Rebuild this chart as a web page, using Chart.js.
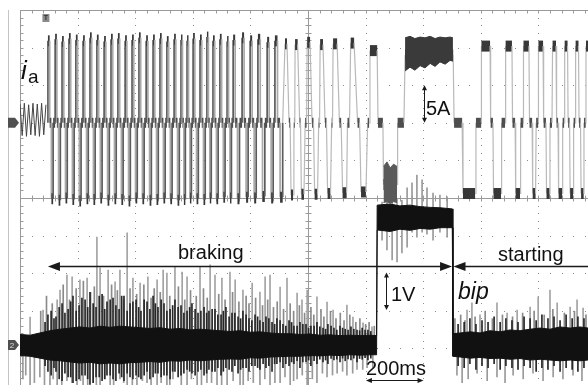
<!DOCTYPE html>
<html>
<head>
<meta charset="utf-8">
<script src="https://cdn.jsdelivr.net/npm/chart.js@4.4.0/dist/chart.umd.min.js"></script>
<style>
  html, body { margin: 0; padding: 0; background: #fff; }
  #wrap { position: relative; width: 588px; height: 385px; overflow: hidden; }
  #wrap canvas { position: absolute; left: 0; top: 0; }
  .lbl { position: absolute; font-family: "Liberation Sans", Arial, sans-serif; font-size: 20px; line-height: 20px; color: #111; white-space: nowrap; }
</style>
</head>
<body>
<div id="wrap">
  <canvas id="scope" width="588" height="385"></canvas>
  <span class="lbl" style="left:21px;top:57px;font-size:26px;line-height:26px;font-style:italic">i</span>
  <span class="lbl" style="left:28px;top:67px;font-size:19px;line-height:19px">a</span>
  <span class="lbl" style="left:426px;top:98px">5A</span>
  <span class="lbl" style="left:178px;top:242px">braking</span>
  <span class="lbl" style="left:498px;top:244px">starting</span>
  <span class="lbl" style="left:391px;top:284px">1V</span>
  <span class="lbl" style="left:458px;top:280px;font-size:23px;line-height:23px;font-style:italic">bip</span>
  <span class="lbl" style="left:366px;top:358px">200ms</span>
</div>
<script>
// time in ms (200 ms/div), current in A (5 A/div), voltage in V (1 V/div)

// ia before the trigger
const preT = [0, 7.5, 15, 22.5, 30, 37.5, 45, 52.5, 60, 67.5, 75, 82.5, 90];
const preI = [2.5, -1.7, 2.6, -1.8, 2.4, -1.6, 2.6, -1.7, 2.5, -1.8, 2.6, -1.6, 2.4];

// ia braking, fast part: per cycle  + pulse on, + pulse off, - pulse on, - pulse off
const denseT = [97, 103, 109, 115, 122, 128, 134, 140, 146, 152, 158, 164, 170, 176, 182, 188,
  194, 200, 206, 212, 219, 225, 231, 237, 243, 249, 255, 261, 267, 273, 279, 285,
  292, 298, 304, 310, 316, 322, 328, 334, 340, 346, 352, 358, 365, 371, 377, 383,
  389, 395, 401, 407, 413, 419, 425, 431, 438, 444, 450, 456, 462, 468, 474, 480,
  486, 492, 498, 504, 510, 516, 522, 528, 535, 541, 547, 553, 559, 564, 569, 574,
  580, 585, 590, 595, 601, 607, 613, 619, 625, 631, 637, 643, 649, 654, 659, 664,
  670, 676, 682, 688, 694, 700, 706, 712, 719, 724, 729, 734, 740, 747, 755, 762,
  771, 778, 785, 792, 799, 806, 813, 820, 826, 834, 842, 850, 858, 865, 872, 879,
  885, 894, 903, 912];
const denseTop = [10.9, 11.1, 10.8, 11.2, 11.0, 10.9, 11.3, 11.0, 10.8, 11.1, 11.2, 10.9, 11.0,
  11.3, 10.9, 11.0, 11.2, 10.8, 11.1, 11.0, 10.9, 11.2, 11.0, 11.4, 10.9, 11.1, 10.8,
  11.0, 11.3, 10.9, 11.1, 10.7, 10.9];
const denseBot = [-10.1, -10.3, -10.0, -10.2, -10.4, -10.1, -10.2, -10.0, -10.3, -10.1, -10.2,
  -10.4, -10.0, -10.1, -10.3, -10.2, -10.0, -10.1, -10.3, -10.2, -10.0, -10.1, -10.2,
  -10.0, -10.1, -9.9, -10.0, -10.1, -9.9, -10.0, -9.8, -10.0, -9.9];

// ia slow end of braking, bip pause and starting (plateau start/end pairs)
const curT = [912,
  920, 927, 934, 938, 941, 948, 951, 954,
  955, 964, 971, 974, 977, 986, 990, 995,
  997, 1007, 1014, 1019, 1023, 1033, 1037, 1040,
  1042, 1052, 1059, 1064, 1068, 1078, 1082, 1085,
  1087, 1101, 1109, 1115, 1120, 1134, 1137, 1144,
  1148, 1160, 1172, 1179, 1184, 1201, 1207, 1212,
  1215, 1240, 1243, 1260, 1262, 1309, 1311, 1333, 1337, 1504, 1507, 1535,
  1538, 1580, 1583, 1601, 1602, 1632, 1634, 1642, 1644, 1670, 1672, 1684, 1686, 1708,
  1710, 1719, 1721, 1736, 1738, 1747, 1748, 1767, 1769, 1778, 1780, 1790, 1792, 1799,
  1800, 1816, 1818, 1826, 1828, 1839, 1840, 1847, 1849, 1861, 1863, 1868, 1870, 1882,
  1884, 1889, 1891, 1901, 1903, 1908, 1910, 1920, 1922, 1927, 1929, 1939, 1941, 1946,
  1948, 1957, 1958, 1964, 1965, 1972];
const curI = [0,
  10.5, 10.5, 0, 0, -9.6, -9.6, 0, 0,
  10.4, 10.4, 0, 0, -9.5, -9.5, 0, 0,
  10.7, 10.7, 0, 0, -9.5, -9.5, 0, 0,
  10.4, 10.4, 0, 0, -9.4, -9.4, 0, 0,
  10.5, 10.5, 0, 0, -9.3, -9.3, 0, 0,
  10.6, 10.6, 0, 0, -9.2, -9.2, 0, 0,
  9.6, 9.6, 0, 0, -8.2, -8.2, 0, 0, 9.0, 9.0, 0, 0,
  -9.4, -9.4, 0, 0, 10.2, 10.2, 0, 0, -9.4, -9.4, 0, 0, 10.2, 10.2,
  0, 0, -9.4, -9.4, 0, 0, 10.2, 10.2, 0, 0, -9.4, -9.4, 0, 0,
  10.2, 10.2, 0, 0, -9.4, -9.4, 0, 0, 10.2, 10.2, 0, 0, -9.4, -9.4,
  0, 0, 10.2, 10.2, 0, 0, -9.4, -9.4, 0, 0, 10.2, 10.2, 0, 0,
  -9.4, -9.4, 0, 0, 10.2, 10.2];

// noisy ia blocks
const negBlockT = [1262, 1274, 1285, 1297, 1309];
const negBlockHi = [-5.8, -5.2, -6.0, -5.5, -5.8];
const negBlockLo = [-10.6, -10.5, -10.7, -10.5, -10.6];
const posBlockT = [1337, 1354, 1371, 1389, 1406, 1424, 1441, 1458, 1476, 1493, 1503];
const posBlockHi = [11.3, 11.5, 11.2, 11.4, 11.3, 11.5, 11.2, 11.4, 11.3, 11.4, 11.3];
const posBlockLo = [6.9, 7.4, 7.0, 7.6, 7.3, 7.9, 7.5, 8.1, 7.8, 8.3, 8.2];

// bip: core noise band
const bandT = [0, 35, 69, 104, 139, 174, 208, 243, 278, 313, 347, 382, 417, 451, 486, 521, 556, 590,
  625, 660, 694, 729, 764, 799, 833, 868, 903, 938, 972, 1007, 1042, 1076, 1111, 1146, 1181,
  1215, 1238, 1240, 1285, 1319, 1354, 1389, 1424, 1458, 1501, 1503, 1528, 1563, 1597, 1632,
  1667, 1701, 1736, 1771, 1806, 1840, 1875, 1910, 1944, 1972];
const bandHi = [0.28, 0.26, 0.32, 0.38, 0.42, 0.45, 0.48, 0.45, 0.5, 0.47, 0.5, 0.48, 0.46, 0.44,
  0.46, 0.42, 0.44, 0.4, 0.42, 0.4, 0.38, 0.36, 0.38, 0.34, 0.35, 0.32, 0.3, 0.3, 0.28, 0.29,
  0.26, 0.27, 0.25, 0.26, 0.25, 0.26, 0.25,
  3.72, 3.75, 3.70, 3.72, 3.68, 3.66, 3.65, 3.62,
  0.30, 0.32, 0.35, 0.32, 0.38, 0.35, 0.40, 0.38, 0.42, 0.45, 0.42, 0.48, 0.45, 0.48, 0.45];
const bandLo = [-0.28, -0.3, -0.35, -0.4, -0.42, -0.45, -0.48, -0.46, -0.5, -0.48, -0.5, -0.47,
  -0.46, -0.44, -0.46, -0.42, -0.43, -0.4, -0.42, -0.4, -0.38, -0.37, -0.38, -0.34, -0.35,
  -0.32, -0.31, -0.3, -0.3, -0.28, -0.29, -0.27, -0.28, -0.26, -0.27, -0.26, -0.26,
  3.06, 3.02, 3.08, 3.05, 3.10, 3.08, 3.12, 3.12,
  -0.30, -0.32, -0.35, -0.33, -0.36, -0.35, -0.38, -0.36, -0.40, -0.38, -0.40, -0.42, -0.40,
  -0.42, -0.40];

// bip: tall grey spikes up from 0 V
const vUpT = [35, 80, 129, 139, 163, 181, 208, 233, 267, 278, 306, 330, 347, 372, 392, 417, 444,
  476, 497, 510, 538, 563, 580, 625, 660, 677, 701, 729, 747, 774, 806, 833, 851, 868, 903,
  927, 962, 979, 997, 1031, 1066, 1087, 1135, 1156, 1191, 1222,
  1552, 1569, 1597, 1656, 1691, 1726, 1771, 1799, 1840, 1865, 1910, 1934, 1955];
const vUpV = [0.74, 0.93, 1.2, 1.46, 1.86, 1.81, 1.73, 1.78, 2.87, 2.05, 1.99, 1.68, 1.99, 2.98,
  1.78, 1.65, 1.81, 1.73, 1.99, 1.91, 2.07, 1.94, 1.81, 2.07, 2.13, 1.86, 1.78, 1.94, 1.73,
  1.46, 1.65, 1.41, 1.81, 1.86, 1.54, 1.78, 1.38, 1.2, 1.46, 1.28, 1.14, 0.93, 1.06, 0.74,
  0.59, 0.48,
  0.93, 1.12, 0.8, 1.12, 0.85, 0.93, 1.01, 1.28, 1.46, 1.12, 1.01, 1.2, 0.98];
// bip: shorter grey spikes up
const vUp2T = [72, 92, 112, 150, 172, 195, 220, 245, 258, 290, 318, 338, 360, 382, 405, 430, 455,
  466, 487, 520, 550, 572, 592, 612, 637, 650, 690, 712, 738, 760, 785, 795, 818, 842, 860,
  880, 893, 915, 938, 950, 970, 988, 1010, 1020, 1045, 1055, 1078, 1097, 1112, 1125, 1145,
  1166, 1180, 1200, 1212, 1230,
  1510, 1530, 1545, 1580, 1615, 1640, 1675, 1710, 1745, 1785, 1820, 1850, 1890, 1925, 1965];
const vUp2V = [0.9, 1.3, 1.1, 1.6, 1.2, 1.5, 1.7, 1.4, 1.55, 1.3, 1.6, 1.45, 1.2, 1.5, 1.35, 1.6,
  1.25, 1.5, 1.4, 1.3, 1.55, 1.2, 1.45, 1.3, 1.5, 1.25, 1.35, 1.2, 1.4, 1.15, 1.3, 1.1, 1.25,
  1.05, 1.2, 1.0, 1.15, 0.95, 1.1, 0.9, 1.05, 0.85, 1.0, 0.8, 0.95, 0.75, 0.9, 0.7, 0.85, 0.65,
  0.8, 0.6, 0.7, 0.55, 0.6, 0.5,
  0.7, 0.8, 0.65, 0.75, 0.9, 0.7, 0.8, 0.75, 0.85, 0.9, 0.8, 0.95, 0.85, 0.9, 0.8];

// bip: grey spikes down from 0 V
const vDownT = [10, 35, 69, 104, 129, 163, 198, 219, 254, 278, 313, 347, 372, 406, 441, 476, 510,
  531, 580, 615, 649, 684, 719, 764, 792, 833, 868, 903, 938, 962, 997, 1031, 1066, 1101,
  1135, 1170, 1205,
  20, 50, 85, 115, 145, 180, 210, 235, 265, 295, 325, 360, 390, 425, 455, 490, 520, 560, 595,
  630, 665, 700, 740, 775, 810, 850, 885, 920, 950, 980, 1015, 1050, 1085, 1120, 1155, 1190, 1225,
  1517, 1535, 1556, 1587, 1622, 1656, 1684, 1712, 1747, 1781, 1816, 1851, 1885, 1920, 1951];
const vDownV = [-0.9, -1.1, -0.85, -1.1, -1.1, -0.95, -1.1, -1.1, -1.0, -1.1, -1.1, -0.9, -1.1,
  -1.1, -1.0, -1.1, -1.1, -0.9, -1.1, -1.1, -1.0, -1.1, -1.1, -1.1, -0.95, -1.1, -1.1, -1.0,
  -1.1, -0.9, -1.1, -1.0, -0.85, -0.75, -0.8, -0.65, -0.6,
  -0.8, -1.0, -1.1, -0.9, -1.1, -1.0, -0.95, -1.1, -1.1, -0.9, -1.1, -1.0, -1.1, -0.95, -1.1,
  -1.0, -1.1, -1.1, -0.9, -1.1, -1.0, -1.1, -0.95, -1.1, -1.0, -0.9, -1.0, -0.85, -0.95, -0.8,
  -0.9, -0.75, -0.8, -0.7, -0.75, -0.65, -0.6,
  -0.8, -1.0, -0.9, -0.75, -0.95, -0.85, -1.0, -0.8, -0.9, -0.75, -0.95, -0.85, -0.9, -0.8, -0.95];

// bip: dark noise bursts around 0 V
const vDarkT = [87, 108, 125, 146, 167, 184, 205, 226, 243, 264, 285, 302, 323, 344, 361, 382, 403,
  420, 441, 462, 479, 500, 521, 538, 559, 580, 597, 618, 639, 656, 677, 698, 715, 736, 757,
  774, 795, 816, 833, 854, 875, 892, 913, 934, 951, 972, 993, 1010, 1031, 1052, 1069, 1090,
  1111, 1129, 1149, 1170, 1188, 1208,
  97, 118, 136, 156, 176, 195, 215, 235, 254, 275, 294, 313, 333, 353, 372, 392, 412, 431,
  451, 470, 490, 510, 530, 549, 569, 589, 608, 628, 648, 667, 687, 706, 726, 746, 766, 785,
  805, 825, 844, 864, 884, 903, 923, 943, 962, 982, 1002, 1021, 1041, 1061, 1080, 1100, 1120,
  1139, 1159, 1179, 1198, 1218,
  1521, 1542, 1562, 1583, 1604, 1625, 1646, 1667, 1687, 1708, 1729, 1750, 1771, 1792, 1812,
  1833, 1854, 1875, 1896, 1917, 1937, 1958];
const vDarkHi = [0.6, 0.9, 0.75, 1.1, 0.95, 1.3, 1.05, 1.2, 1.4, 1.0, 1.35, 1.15, 1.25, 0.95, 1.3,
  1.1, 1.2, 0.9, 1.15, 1.3, 1.0, 1.1, 0.95, 1.2, 1.05, 0.9, 1.1, 0.85, 1.0, 0.9, 0.95, 0.8,
  1.0, 0.85, 0.75, 0.9, 0.7, 0.8, 0.65, 0.75, 0.6, 0.7, 0.55, 0.65, 0.5, 0.6, 0.55, 0.5, 0.6,
  0.45, 0.55, 0.45, 0.5, 0.42, 0.48, 0.4, 0.45, 0.4,
  0.8, 0.7, 1.0, 0.85, 1.15, 0.9, 1.25, 1.0, 1.1, 1.3, 0.95, 1.2, 1.05, 1.3, 0.9, 1.15, 1.0,
  1.2, 0.95, 1.1, 1.2, 0.9, 1.05, 1.0, 0.85, 1.0, 0.95, 0.9, 0.85, 0.95, 0.8, 0.9, 0.75, 0.85,
  0.7, 0.8, 0.65, 0.75, 0.6, 0.7, 0.55, 0.65, 0.5, 0.6, 0.5, 0.55, 0.45, 0.5, 0.48, 0.42, 0.5,
  0.4, 0.45, 0.4, 0.42, 0.38, 0.4, 0.36,
  0.55, 0.6, 0.7, 0.55, 0.65, 0.6, 0.75, 0.6, 0.7, 0.65, 0.6, 0.75, 0.7, 0.65, 0.8, 0.7, 0.75,
  0.65, 0.8, 0.7, 0.75, 0.7];
const vDarkLo = [-0.55, -0.8, -0.7, -0.95, -0.85, -1.0, -0.9, -0.8, -1.05, -0.85, -0.95, -0.8,
  -0.9, -0.75, -0.95, -0.85, -0.8, -0.9, -0.7, -0.85, -0.75, -0.8, -0.9, -0.7, -0.8, -0.65,
  -0.75, -0.7, -0.8, -0.65, -0.7, -0.8, -0.6, -0.7, -0.75, -0.6, -0.7, -0.55, -0.65, -0.6,
  -0.7, -0.5, -0.6, -0.55, -0.5, -0.6, -0.45, -0.55, -0.5, -0.45, -0.5, -0.4, -0.45, -0.42,
  -0.4, -0.45, -0.38, -0.4,
  -0.7, -0.6, -0.9, -0.75, -0.85, -0.95, -0.8, -0.9, -1.0, -0.85, -0.9, -0.8, -0.95, -0.85,
  -0.75, -0.9, -0.85, -0.8, -0.9, -0.75, -0.85, -0.8, -0.7, -0.85, -0.75, -0.7, -0.8, -0.65,
  -0.75, -0.7, -0.6, -0.7, -0.65, -0.55, -0.65, -0.6, -0.55, -0.6, -0.5, -0.55, -0.5, -0.45,
  -0.5, -0.45, -0.42, -0.45, -0.4, -0.42, -0.38, -0.4, -0.36, -0.38, -0.35, -0.37, -0.35,
  -0.36, -0.34, -0.35,
  -0.55, -0.6, -0.5, -0.65, -0.55, -0.6, -0.5, -0.65, -0.55, -0.6, -0.65, -0.55, -0.6, -0.7,
  -0.6, -0.65, -0.55, -0.7, -0.6, -0.65, -0.7, -0.6];

// bip: spikes on the high level during the pause
const vHighT = [1257, 1274, 1292, 1309, 1326, 1344, 1361, 1378, 1396, 1413, 1434, 1458, 1483];
const vHighHi = [3.8, 3.85, 3.8, 3.9, 3.85, 4.18, 4.31, 4.52, 4.39, 4.18, 4.04, 3.99, 3.94];
const vHighLo = [2.79, 2.53, 2.26, 2.21, 2.45, 2.6, 3.0, 2.87, 3.0, 2.95, 2.79, 3.0, 2.87];

const xy = (ts, vs) => ts.map((t, i) => ({ x: t, y: vs[i] }));
const span = (ts, lo, hi) => ts.map((t, i) => ({ x: t, y: [Array.isArray(lo) ? lo[i] : lo, Array.isArray(hi) ? hi[i] : hi] }));

// square pulses from the edge times
const densePts = [];
for (let k = 0; k < denseTop.length; k++) {
  const [upOn, upOff, dnOn, dnOff] = denseT.slice(4 * k, 4 * k + 4);
  densePts.push({ x: upOn, y: 0 }, { x: upOn, y: denseTop[k] }, { x: upOff, y: denseTop[k] }, { x: upOff, y: 0 },
    { x: dnOn, y: 0 }, { x: dnOn, y: denseBot[k] }, { x: dnOff, y: denseBot[k] }, { x: dnOff, y: 0 });
}

const flat = c => c.p0.parsed.y === c.p1.parsed.y;
const flatColor = c => c.p0.parsed.y === 0 ? '#4e4e4e' : '#383838';
const flatWidth = c => c.p0.parsed.y === 0 ? 10 : 11;
const traceStyle = {
  fill: false, order: 3, borderCapStyle: 'butt', borderColor: '#bdbdbd', borderWidth: 1.2,
  segment: {
    borderColor: c => flat(c) ? flatColor(c) : '#b9b9b9',
    borderWidth: c => flat(c) ? flatWidth(c) : 1.2
  }
};
// fast part: rising edges darker than falling ones
const denseStyle = {
  fill: false, order: 3, borderCapStyle: 'butt', borderColor: '#999', borderWidth: 1.6,
  segment: {
    borderColor: c => flat(c) ? flatColor(c) : (c.p1.parsed.y > c.p0.parsed.y ? '#5c5c5c' : '#a9a9a9'),
    borderWidth: c => flat(c) ? flatWidth(c) : 1.7
  }
};

const graticule = {
  id: 'graticule',
  beforeDatasetsDraw(chart) {
    const c = chart.ctx, x = chart.scales.x, y = chart.scales.yI, a = chart.chartArea;
    const dx = x.getPixelForValue(200) - x.getPixelForValue(0);
    const dy = y.getPixelForValue(10) - y.getPixelForValue(15);
    c.save();
    c.fillStyle = '#8e8e8e';
    for (let k = 1; k < 10; k++) {
      if (k === 5) continue;
      const px = Math.round(x.getPixelForValue(k * 200));
      for (let py = a.top + dy / 5; py < a.bottom; py += dy / 5) c.fillRect(px, Math.round(py), 1, 1);
    }
    for (let j = 1; j < 10; j++) {
      if (j === 5) continue;
      const py = Math.round(y.getPixelForValue(15 - 5 * j));
      for (let px = a.left + dx / 5; px < a.right; px += dx / 5) c.fillRect(Math.round(px), py, 1, 1);
    }
    const cx = Math.round(x.getPixelForValue(1000)) + 0.5;
    const cy = Math.round(y.getPixelForValue(-10)) + 0.5;
    const top = Math.round(a.top) + 0.5, left = Math.round(a.left) + 0.5;
    c.strokeStyle = '#9a9a9a';
    c.lineWidth = 1;
    c.beginPath();
    c.moveTo(cx, a.top); c.lineTo(cx, a.bottom);
    c.moveTo(a.left, cy); c.lineTo(a.right, cy);
    c.moveTo(a.left, top); c.lineTo(a.right, top);
    c.moveTo(left, a.top); c.lineTo(left, a.bottom);
    for (let py = a.top; py < a.bottom; py += dy / 5) {
      const p = Math.round(py) + 0.5;
      c.moveTo(cx - 3, p); c.lineTo(cx + 3, p);
      c.moveTo(left, p); c.lineTo(left + 3, p);
    }
    for (let px = a.left; px < a.right; px += dx / 5) {
      const p = Math.round(px) + 0.5;
      c.moveTo(p, cy - 3); c.lineTo(p, cy + 3);
      c.moveTo(p, top); c.lineTo(p, top + 3);
    }
    c.stroke();
    c.strokeStyle = '#c4c4c4';
    c.beginPath();
    c.moveTo(left - 12, a.top); c.lineTo(left - 12, a.bottom);
    c.stroke();
    c.restore();
  }
};

function head(c, x, y, ux, uy, len, w) {
  c.beginPath();
  c.moveTo(x, y);
  c.lineTo(x - ux * len - uy * w, y - uy * len + ux * w);
  c.lineTo(x - ux * len + uy * w, y - uy * len - ux * w);
  c.closePath();
  c.fill();
}

const marks = {
  id: 'marks',
  afterDatasetsDraw(chart) {
    const c = chart.ctx, x = chart.scales.x, yI = chart.scales.yI, yV = chart.scales.yV, a = chart.chartArea;
    c.save();
    c.strokeStyle = '#1a1a1a';
    c.fillStyle = '#1a1a1a';
    // braking / starting arrows
    const ya = Math.round(yV.getPixelForValue(2.1)) + 0.5;
    const x0 = x.getPixelForValue(97), x1 = x.getPixelForValue(1500), x2 = x.getPixelForValue(1505);
    c.lineWidth = 1.3;
    c.beginPath();
    c.moveTo(x0 + 6, ya); c.lineTo(x1 - 6, ya);
    c.moveTo(x2 + 6, ya); c.lineTo(a.right, ya);
    c.stroke();
    head(c, x0, ya, -1, 0, 12, 4.5);
    head(c, x1, ya, 1, 0, 12, 4.5);
    head(c, x2, ya, -1, 0, 12, 4.5);
    // 5A scale arrow
    c.lineWidth = 1;
    const xa = Math.round(x.getPixelForValue(1403)) + 0.5;
    const ia0 = yI.getPixelForValue(0), ia1 = yI.getPixelForValue(5);
    c.beginPath(); c.moveTo(xa, ia0 - 3); c.lineTo(xa, ia1 + 3); c.stroke();
    head(c, xa, ia0, 0, 1, 5, 2.5);
    head(c, xa, ia1, 0, -1, 5, 2.5);
    // 1V scale arrow
    const xv = Math.round(x.getPixelForValue(1271)) + 0.5;
    const v0 = yV.getPixelForValue(0.93), v1 = yV.getPixelForValue(1.93);
    c.beginPath(); c.moveTo(xv, v0 - 3); c.lineTo(xv, v1 + 3); c.stroke();
    head(c, xv, v0, 0, 1, 5, 2.5);
    head(c, xv, v1, 0, -1, 5, 2.5);
    // 200ms arrow
    const yt = Math.round(yV.getPixelForValue(-0.93)) + 0.5;
    const t0 = x.getPixelForValue(1201), t1 = x.getPixelForValue(1401);
    c.beginPath(); c.moveTo(t0 + 3, yt); c.lineTo(t1 - 3, yt); c.stroke();
    head(c, t0, yt, -1, 0, 6, 2.5);
    head(c, t1, yt, 1, 0, 6, 2.5);
    // channel markers
    c.fillStyle = '#505050';
    [yI.getPixelForValue(0), yV.getPixelForValue(0)].forEach(py => {
      const l = a.left;
      c.beginPath();
      c.moveTo(l - 12, py - 5); c.lineTo(l - 5, py - 5); c.lineTo(l - 1, py);
      c.lineTo(l - 5, py + 5); c.lineTo(l - 12, py + 5); c.closePath(); c.fill();
    });
    c.fillStyle = '#ddd';
    c.font = '8px "Liberation Sans", Arial, sans-serif';
    c.textAlign = 'center'; c.textBaseline = 'middle';
    c.fillText('2', a.left - 8, yV.getPixelForValue(0) + 0.5);
    // trigger marker
    const tx = x.getPixelForValue(90);
    c.fillStyle = '#8a8a8a';
    c.fillRect(tx - 3.5, a.top + 4, 7, 8);
    c.fillStyle = '#333';
    c.font = 'bold 7px "Liberation Sans", Arial, sans-serif';
    c.fillText('T', tx, a.top + 8.5);
    c.restore();
  }
};

new Chart(document.getElementById('scope'), {
  type: 'line',
  data: {
    datasets: [
      { type: 'bar', data: span(vUpT, 0, vUpV), yAxisID: 'yV', backgroundColor: '#a3a3a3', barThickness: 1, grouped: false, order: 9 },
      { type: 'bar', data: span(vUp2T, 0, vUp2V), yAxisID: 'yV', backgroundColor: '#8a8a8a', barThickness: 1, grouped: false, order: 9 },
      { type: 'bar', data: span(vDownT, vDownV, 0), yAxisID: 'yV', backgroundColor: '#9a9a9a', barThickness: 1, grouped: false, order: 9 },
      { type: 'bar', data: span(vHighT, vHighLo, vHighHi), yAxisID: 'yV', backgroundColor: '#9a9a9a', barThickness: 1, grouped: false, order: 9 },
      { type: 'bar', data: span(vDarkT, vDarkLo, vDarkHi), yAxisID: 'yV', backgroundColor: '#262626', barThickness: 1, grouped: false, order: 8 },
      { data: xy(bandT, bandHi), yAxisID: 'yV', borderColor: '#111', borderWidth: 1, backgroundColor: '#111', fill: '+1', order: 7 },
      { data: xy(bandT, bandLo), yAxisID: 'yV', borderColor: '#111', borderWidth: 1, fill: false, order: 7 },
      { data: xy(preT, preI), yAxisID: 'yI', borderColor: '#444', borderWidth: 1, fill: false, order: 3 },
      Object.assign({ data: densePts, yAxisID: 'yI' }, denseStyle),
      Object.assign({ data: xy(curT, curI), yAxisID: 'yI' }, traceStyle),
      { data: xy(negBlockT, negBlockHi), yAxisID: 'yI', borderColor: '#5a5a5a', borderWidth: 1, backgroundColor: '#5a5a5a', fill: '+1', order: 2 },
      { data: xy(negBlockT, negBlockLo), yAxisID: 'yI', borderColor: '#5a5a5a', borderWidth: 1, fill: false, order: 2 },
      { data: xy(posBlockT, posBlockHi), yAxisID: 'yI', borderColor: '#3a3a3a', borderWidth: 1, backgroundColor: '#3a3a3a', fill: '+1', order: 2 },
      { data: xy(posBlockT, posBlockLo), yAxisID: 'yI', borderColor: '#3a3a3a', borderWidth: 1, fill: false, order: 2 }
    ]
  },
  options: {
    responsive: false,
    animation: false,
    layout: { autoPadding: false, padding: { left: 20, top: 10, right: 0, bottom: 0 } },
    elements: { point: { radius: 0 }, line: { tension: 0 } },
    plugins: { legend: { display: false }, tooltip: { enabled: false } },
    scales: {
      x: { type: 'linear', min: 0, max: 1972, offset: false, display: false },
      yI: { type: 'linear', min: -34.87, max: 15, display: false },
      yV: { type: 'linear', min: -1.064, max: 8.91, display: false }
    }
  },
  plugins: [graticule, marks]
});
</script>
</body>
</html>
